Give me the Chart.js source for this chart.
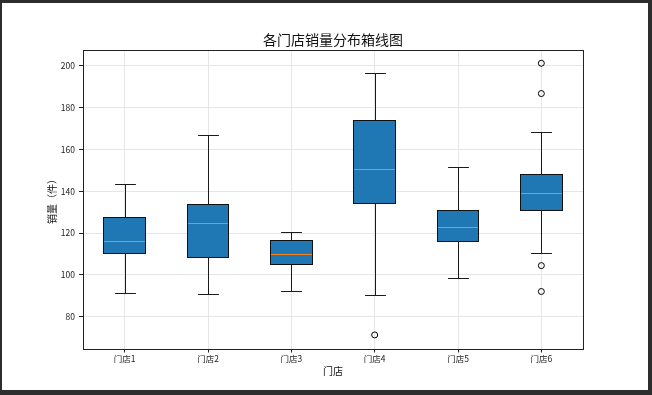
<!DOCTYPE html>
<html>
<head>
<meta charset="utf-8">
<script src="https://cdn.jsdelivr.net/npm/chart.js@4/dist/chart.umd.min.js"></script>
<style>
  html, body { margin: 0; padding: 0; background: #2d2d2d; width: 652px; height: 395px; overflow: hidden; }
  #wrap { position: absolute; left: 2px; top: 3px; width: 646px; height: 387px; background: #ffffff; }
</style>
</head>
<body>
<div id="wrap"><canvas id="c"></canvas></div>
<script>
const stores = ['门店1', '门店2', '门店3', '门店4', '门店5', '门店6'];
const q1 = [110.0, 108.1, 104.7, 134.1, 115.9, 130.7];
const q3 = [127.4, 133.9, 116.2, 174.0, 130.7, 148.1];
const medians = [116.2, 124.7, 110.0, 150.7, 123.1, 139.1];
const whiskerLow = [91.2, 90.7, 92.4, 90.2, 98.4, 110.6];
const whiskerHigh = [143.5, 167.1, 120.4, 196.6, 151.5, 168.3];
const outlierStore = ['门店4', '门店6', '门店6', '门店6', '门店6'];
const outlierValue = [71.2, 201.3, 186.8, 104.4, 92.0];
const yTicks = [80, 100, 120, 140, 160, 180, 200];

const FONT = '"Noto Sans CJK SC", "Noto Sans", sans-serif';

const boxPlugin = {
  id: 'boxParts',
  afterDatasetsDraw(chart) {
    const ctx = chart.ctx;
    const xs = chart.scales.x, ys = chart.scales.y;
    const catW = xs.getPixelForValue(1) - xs.getPixelForValue(0);
    const capHalf = catW * 0.25 / 2;
    const r = v => Math.round(v) + 0.5;
    const bars = chart.getDatasetMeta(0).data;
    ctx.save();
    ctx.lineWidth = 1;
    for (let i = 0; i < stores.length; i++) {
      const el = bars[i].getProps(['x', 'width', 'y', 'base'], true);
      const cx = r(el.x);
      const yl = r(ys.getPixelForValue(whiskerLow[i]));
      const yh = r(ys.getPixelForValue(whiskerHigh[i]));
      const top = Math.min(el.y, el.base), bot = Math.max(el.y, el.base);
      const y3 = Math.floor(top) + 0.5;
      const y1 = Math.ceil(bot) - 0.5;
      const ym = r(ys.getPixelForValue(medians[i]));
      const bl = Math.floor(el.x - el.width / 2) + 0.5;
      const br = Math.ceil(el.x + el.width / 2) - 0.5;
      ctx.strokeStyle = '#1a1a1a';
      ctx.beginPath();
      ctx.moveTo(cx, y3); ctx.lineTo(cx, yh);
      ctx.moveTo(cx, y1); ctx.lineTo(cx, yl);
      ctx.moveTo(cx - capHalf, yh); ctx.lineTo(cx + capHalf, yh);
      ctx.moveTo(cx - capHalf, yl); ctx.lineTo(cx + capHalf, yl);
      ctx.stroke();
      ctx.strokeStyle = '#f5821f';
      ctx.beginPath();
      ctx.moveTo(bl, ym); ctx.lineTo(br, ym);
      ctx.stroke();
      ctx.strokeStyle = '#111';
      ctx.strokeRect(bl, y3, br - bl, y1 - y3);
    }
    const a = chart.chartArea;
    ctx.strokeStyle = '#222';
    ctx.strokeRect(r(a.left), r(a.top), Math.round(a.right - a.left), Math.round(a.bottom - a.top));
    ctx.restore();
  }
};

new Chart(document.getElementById('c'), {
  data: {
    labels: stores,
    datasets: [
      {
        type: 'bar',
        data: stores.map((s, i) => [q1[i], q3[i]]),
        backgroundColor: '#1f77b4',
        borderWidth: 0,
        inflateAmount: 0,
        barPercentage: 0.5,
        categoryPercentage: 1.0,
        order: 2
      },
      {
        type: 'line',
        data: outlierStore.map((s, i) => ({ x: s, y: outlierValue[i] })),
        showLine: false,
        pointStyle: 'circle',
        pointRadius: 3,
        pointBorderWidth: 1,
        pointBackgroundColor: 'rgba(255,255,255,0)',
        pointBorderColor: '#000',
        order: 1
      }
    ]
  },
  options: {
    responsive: true,
    maintainAspectRatio: false,
    animation: false,
    layout: { padding: { left: 16, right: 0, top: 0, bottom: 0 } },
    plugins: {
      legend: { display: false },
      tooltip: { enabled: false },
      title: {
        display: true,
        text: '各门店销量分布箱线图',
        color: '#111',
        font: { family: FONT, size: 14, weight: 'normal', lineHeight: 1.2 },
        padding: { top: 28.6, bottom: 1.3 }
      }
    },
    scales: {
      x: {
        type: 'category',
        offset: true,
        border: { display: false },
        grid: { offset: false, color: '#e6e6e6', lineWidth: 1, tickLength: 4, tickColor: '#222' },
        ticks: { color: '#222', padding: 1, font: { family: FONT, size: 8.5 } },
        title: {
          display: true, text: '门店', color: '#111',
          font: { family: FONT, size: 10, lineHeight: 1.2 },
          padding: { top: 0, bottom: 12.3 }
        },
        afterFit(scale) { scale.height = 41.5; }
      },
      y: {
        type: 'linear',
        position: 'left',
        min: 64.7,
        max: 207.8,
        border: { display: false },
        grid: { color: '#e6e6e6', lineWidth: 1, tickLength: 4, tickColor: '#222' },
        ticks: { color: '#222', padding: 4, font: { family: FONT, size: 8.5 } },
        afterBuildTicks(scale) { scale.ticks = yTicks.map(v => ({ value: v })); },
        title: {
          display: true, text: '销量（件）', color: '#111',
          font: { family: FONT, size: 10, lineHeight: 1.2 },
          padding: { top: 28, bottom: 0 }
        },
        afterFit(scale) { scale.width = 65; }
      },
      yRight: {
        type: 'linear',
        position: 'right',
        display: true,
        min: 64.7,
        max: 207.8,
        border: { display: false },
        grid: { display: false },
        ticks: { display: false },
        afterFit(scale) { scale.width = 65; }
      }
    }
  },
  plugins: [boxPlugin]
});
</script>
</body>
</html>
